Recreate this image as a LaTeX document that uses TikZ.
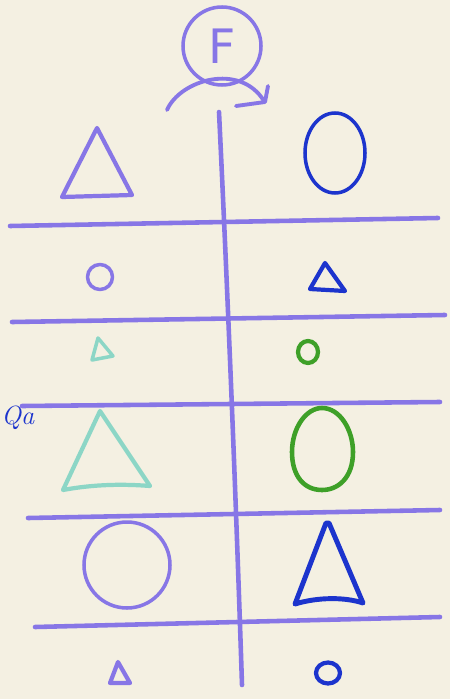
\documentclass[tikz,border=0pt]{standalone}
\usepackage{fontspec}
\setsansfont{DejaVu Sans}
\begin{document}
\begin{tikzpicture}[x=0.02cm,y=-0.02cm,line cap=round,line join=round]
\definecolor{paper}{RGB}{244,240,226}
\definecolor{lav}{RGB}{135,118,230}
\definecolor{bluepen}{RGB}{28,52,205}
\definecolor{tealpen}{RGB}{140,214,198}
\definecolor{greenpen}{RGB}{62,160,40}
\tikzset{
  gridline/.style={draw=lav,line width=2.6pt},
  pen/.style={line width=2pt},
  thickpen/.style={line width=2.4pt}
}
\fill[paper] (0,0) rectangle (450,699);
\useasboundingbox (0,0) rectangle (450,699);
% grid lines
\draw[gridline] (219,112) .. controls (228,300) and (236,500) .. (242,685);
\draw[gridline] (10,226) -- (438,218);
\draw[gridline] (12,322) -- (445,315);
\draw[gridline] (22,406) -- (440,402);
\draw[gridline] (28,518) -- (440,510);
\draw[gridline] (35,627) -- (440,617);
% F circle and curved arrow
\node[draw=lav,line width=2pt,circle,minimum size=78*0.02cm,inner sep=0pt,text=lav,font=\sffamily\fontsize{27}{27}\selectfont] (F) at (222,46) {F};
\draw[lav,line width=2.2pt] (167,110) .. controls (180,80) and (240,62) .. (264,101);
\draw[lav,line width=2.2pt] (268,86) -- (265,102) -- (236,106);
% margin scribble
\node[text=bluepen,font=\itshape\fontsize{15}{15}\selectfont,anchor=base west,inner sep=0pt] (qa) at (1,424) {Qa};
% row 1
\draw[lav,thickpen] (97,128) -- (62,197) -- (132,195) -- cycle;
\draw[bluepen,pen] (335,153) ellipse [x radius=30,y radius=40];
% row 2
\draw[lav,pen] (100,277) circle [radius=12.5];
\draw[bluepen,thickpen] (325,263) -- (310,289) -- (345,291) -- cycle;
% row 3
\draw[tealpen,pen] (98,338) -- (92,360) -- (113,356) -- cycle;
\draw[greenpen,thickpen] (308,352) ellipse [x radius=10,y radius=11];
% row 4
\draw[tealpen,thickpen] (100,411) -- (63,490) .. controls (95,484) and (125,484) .. (150,486) -- cycle;
\draw[greenpen,line width=2.6pt] (322,408) .. controls (340,408) and (353,430) .. (353,452) .. controls (353,478) and (338,490) .. (322,490) .. controls (304,490) and (292,476) .. (292,452) .. controls (292,428) and (306,408) .. (322,408) -- cycle;
% row 5
\draw[lav,pen] (127,565) circle [radius=43];
\draw[bluepen,line width=2.8pt] (326,523) -- (295,604) .. controls (318,597) and (345,597) .. (363,603) -- (329,523) -- cycle;
% row 6
\draw[lav,thickpen] (118,662) -- (110,683) -- (130,683) -- cycle;
\draw[bluepen,thickpen] (328,673) ellipse [x radius=12,y radius=10.5];
\end{tikzpicture}
\end{document}
